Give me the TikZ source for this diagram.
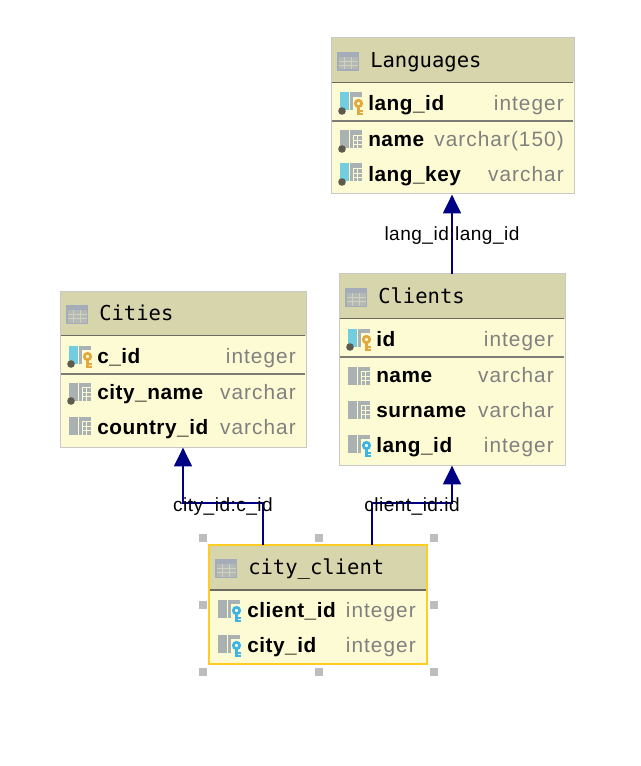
\documentclass[tikz,border=0pt]{standalone}
\usepackage{fontspec}
\setmainfont{Liberation Sans}
\newfontfamily\titlefont{DejaVu Sans Mono}
\newfontfamily\fieldfont[LetterSpace=2.5]{Liberation Sans Bold}
\newfontfamily\typefont[LetterSpace=5]{Liberation Sans}
\newfontfamily\relfont[LetterSpace=2.5]{Liberation Sans}
\usetikzlibrary{arrows.meta}
\definecolor{hdr}{HTML}{D6D5AC}
\definecolor{body}{HTML}{FDFBD3}
\definecolor{rim}{HTML}{C8C8C8}
\definecolor{grip}{HTML}{BDBDBD}
\definecolor{sel}{HTML}{FFCC22}
\definecolor{sep}{HTML}{6A6A60}
\definecolor{rowsep}{HTML}{7C7C74}
\definecolor{typ}{HTML}{808080}
\definecolor{link}{HTML}{000085}
\definecolor{iconblue}{HTML}{72CDE0}
\definecolor{icongrey}{HTML}{A9B1B3}
\definecolor{gold}{HTML}{E3A83C}
\definecolor{skyk}{HTML}{3DB5E6}
\definecolor{dot}{HTML}{5E5B4E}
\definecolor{tabic}{HTML}{A3ACB8}
\definecolor{tabcell}{HTML}{B4B9B6}
\definecolor{tabline}{HTML}{D0D2BE}
\tikzset{
 x=0.75pt,y=-0.75pt,
 tablebox/.style={draw=rim,line width=0.75pt,fill=body,rectangle,inner sep=0pt,outer sep=0pt,anchor=north west},
 selbox/.style={tablebox,draw=sel},
 title/.style={font=\titlefont\fontsize{15.4}{15.4}\selectfont,anchor=base west,inner sep=0pt,text=black,yshift=-5.2pt},
 field/.style={font=\fieldfont\fontsize{15.6}{16}\selectfont,anchor=base west,inner sep=0pt,text=black,yshift=-4.7pt},
 ftype/.style={font=\typefont\fontsize{15.6}{16}\selectfont,anchor=base east,inner sep=0pt,text=typ,yshift=-4.7pt},
 rel/.style={draw=link,line width=0.95pt,-{Triangle[width=13.5pt,length=14pt,fill=link]},shorten >=0.5pt},
 rellabel/.style={font=\relfont\fontsize{14.3}{14.3}\selectfont,inner sep=0pt,text=black,anchor=base,yshift=-5.2pt},
 handle/.style={fill=grip,draw=none,rectangle,minimum size=6pt,inner sep=0pt},
}
% header band: #1 left, #2 top, #3 right, #4 separator y
\newcommand{\headband}[4]{%
 \fill[hdr] (#1+0.5,#2+0.5) rectangle (#3-0.5,#4);
 \draw[sep,line width=1.3pt] (#1+1,#4) -- (#3-1,#4);
 \fill[tabic] (#1+6,#2+14) rectangle (#1+28,#2+33);
 \fill[tabcell] (#1+7.5,#2+19) rectangle (#1+26.5,#2+31.5);
 \foreach \yy in {23.2,27.4}{\draw[tabline,line width=0.45pt] (#1+7.5,#2+\yy) -- (#1+26.5,#2+\yy);}
 \foreach \xx in {13.5,20}{\draw[tabline,line width=0.45pt] (#1+\xx,#2+19) -- (#1+\xx,#2+31.5);}
}
% column icon at x,y centre: #3 bar colour
\newcommand{\colicon}[3]{%
 \fill[#3] (#1-10,#2-9.5) rectangle (#1-1.5,#2+8.5);
 \fill[icongrey] (#1-0.5,#2-9.5) rectangle (#1+12,#2+8.5);
 \foreach \yy in {-4.5,0,4}{\draw[body,line width=0.6pt] (#1+3,#2+\yy) -- (#1+12,#2+\yy);}
 \draw[body,line width=0.7pt] (#1+3,#2-4.5) -- (#1+3,#2+8.5);
 \draw[body,line width=0.6pt] (#1+7.5,#2-4.5) -- (#1+7.5,#2+8.5);
}
\newcommand{\dotic}[2]{\fill[dot] (#1-8,#2+9) circle (3.8);}
\newcommand{\keyic}[3]{%
 \fill[body] (#1+3.5,#2-4.2) rectangle (#1+14,#2+14);
 \draw[#3,line width=2pt] (#1+8.5,#2+1.5) circle (3.2);
 \draw[#3,line width=2.4pt] (#1+8.5,#2+5) -- (#1+8.5,#2+13);
 \draw[#3,line width=1.4pt] (#1+8.5,#2+9) -- (#1+13,#2+9) (#1+8.5,#2+12) -- (#1+13,#2+12);
}
\begin{document}
\begin{tikzpicture}
\useasboundingbox (0,0) rectangle (640,766);
\fill[white] (0,0) rectangle (640,766);
% selection handles
\foreach \hx/\hy/\hn in {203/538/ha,318.5/538/hb,434/538/hc,203/605/hd,434/605/he,203/672/hf,318.5/672/hg,434/672/hh}{
 \node[handle] (\hn) at (\hx,\hy) {};}
% tables
\node[tablebox,minimum width=182.25pt,minimum height=117pt] (langs) at (331,38) {};
\node[tablebox,minimum width=169.5pt,minimum height=143.25pt] (clients) at (339,274) {};
\node[tablebox,minimum width=184.5pt,minimum height=117pt] (cities) at (60,291) {};
\node[selbox,minimum width=163.5pt,minimum height=89.25pt] (cc) at (209,545) {};
% Languages
\headband{331}{38}{574}{82.5}
\draw[rowsep,line width=1.1pt] (332,121) -- (573,121);
\node[title] (t1) at (370,61) {Languages};
\colicon{350}{102}{iconblue}\dotic{350}{102}\keyic{350}{102}{gold}
\node[field] (f11) at (368,104) {lang\_id};\node[ftype] (y11) at (564,104) {integer};
\colicon{350}{140}{icongrey}\dotic{350}{140}
\node[field] (f12) at (368,140) {name};\node[ftype] (y12) at (564,140) {varchar(150)};
\colicon{350}{173}{iconblue}\dotic{350}{173}
\node[field] (f13) at (368,175) {lang\_key};\node[ftype] (y13) at (564,175) {varchar};
% Clients
\headband{339}{274}{565}{318.5}
\draw[rowsep,line width=1.1pt] (340,357) -- (564,357);
\node[title] (t2) at (378,297) {Clients};
\colicon{358}{338}{iconblue}\dotic{358}{338}\keyic{358}{338}{gold}
\node[field] (f21) at (376,340) {id};\node[ftype] (y21) at (554,340) {integer};
\colicon{358}{376}{icongrey}
\node[field] (f22) at (376,376) {name};\node[ftype] (y22) at (554,376) {varchar};
\colicon{358}{410}{icongrey}
\node[field] (f23) at (376,411) {surname};\node[ftype] (y23) at (554,411) {varchar};
\colicon{358}{444}{icongrey}\keyic{358}{444}{skyk}
\node[field] (f24) at (376,446) {lang\_id};\node[ftype] (y24) at (554,446) {integer};
% Cities
\headband{60}{291}{306}{335.5}
\draw[rowsep,line width=1.1pt] (61,374) -- (305,374);
\node[title] (t3) at (99,314) {Cities};
\colicon{79}{355}{iconblue}\dotic{79}{355}\keyic{79}{355}{gold}
\node[field] (f31) at (97,357) {c\_id};\node[ftype] (y31) at (296,357) {integer};
\colicon{79}{392}{icongrey}\dotic{79}{392}
\node[field] (f32) at (97,393) {city\_name};\node[ftype] (y32) at (296,393) {varchar};
\colicon{79}{426}{icongrey}
\node[field] (f33) at (97,428) {country\_id};\node[ftype] (y33) at (296,428) {varchar};
% city_client
\headband{209}{545}{427}{590}
\node[title] (t4) at (248,568) {city\_client};
\colicon{228}{609}{icongrey}\keyic{228}{609}{skyk}
\node[field] (f41) at (247,611) {client\_id};\node[ftype] (y41) at (416,611) {integer};
\colicon{228}{644}{icongrey}\keyic{228}{644}{skyk}
\node[field] (f42) at (247,646) {city\_id};\node[ftype] (y42) at (416,646) {integer};
% redraw rims
\draw[rim,line width=0.75pt] (langs.north west) rectangle (langs.south east);
\draw[rim,line width=0.75pt] (clients.north west) rectangle (clients.south east);
\draw[rim,line width=0.75pt] (cities.north west) rectangle (cities.south east);
\draw[sel,line width=0.8pt] (cc.north west) rectangle (cc.south east);
% connectors
\coordinate (ccA) at (263,545);\coordinate (ccB) at (372,545);
\coordinate (citiesIn) at (183,447);\coordinate (clientsIn) at (452,465);
\coordinate (clientsOut) at (452,274);\coordinate (langsIn) at (452,194);
\draw[rel] (clientsOut) -- (langsIn);
\draw[rel] (ccA) -- (263,503) -- (183,503) -- (citiesIn);
\draw[rel] (ccB) -- (372,503) -- (452,503) -- (clientsIn);
% labels
\node[rellabel] (l1) at (452,234) {lang\_id:lang\_id};
\node[rellabel] (l2) at (223,505) {city\_id:c\_id};
\node[rellabel] (l3) at (412,505) {client\_id:id};
\end{tikzpicture}
\end{document}
